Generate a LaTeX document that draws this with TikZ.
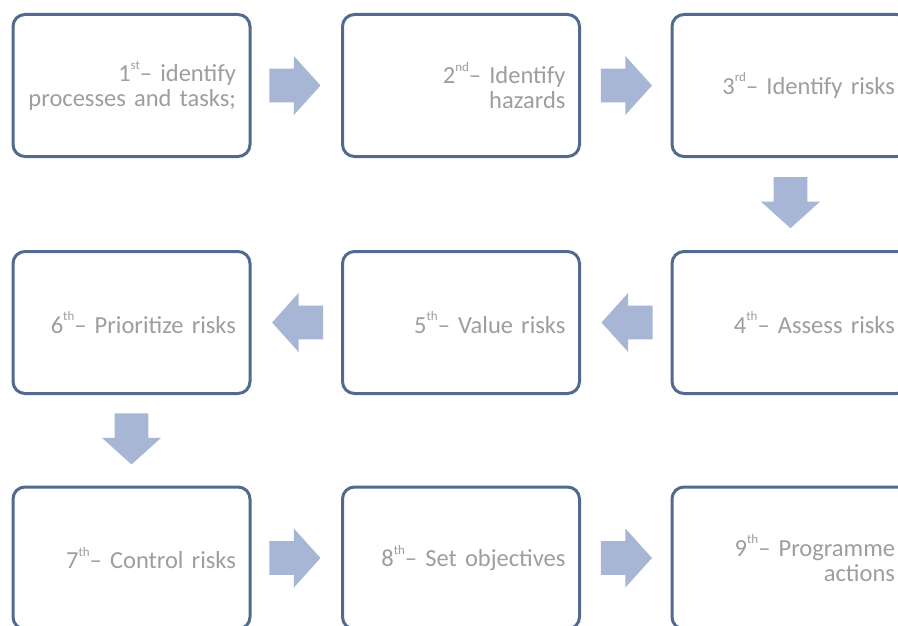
\documentclass[tikz,border=0pt]{standalone}
\usepackage{fontspec}
\setmainfont{Carlito}
\usetikzlibrary{shapes.arrows,calc}
\definecolor{boxblue}{RGB}{82,106,142}
\definecolor{arrowblue}{RGB}{167,182,212}
\definecolor{textgray}{RGB}{158,158,158}
\newcommand\ordsup[1]{\raisebox{0.5em}{\fontsize{13}{13}\selectfont #1}}
\tikzset{
  stepbox/.style={draw=boxblue, line width=3pt, rounded corners=12pt, fill=white,
    minimum width=237pt, minimum height=142pt, text width=209pt, inner xsep=14pt,
    align=right, text=textgray, font=\fontsize{24.5}{25}\selectfont},
  blockarrow/.style={single arrow, fill=arrowblue, draw=none, inner xsep=2pt, inner ysep=16.5pt,
    minimum height=51pt, minimum width=59pt, single arrow head extend=12.5pt,
    single arrow tip angle=96, anchor=tail},
  downarrow/.style={blockarrow, shape border rotate=270, inner xsep=16.5pt, inner ysep=2pt},
}
\begin{document}
\begin{tikzpicture}[x=1pt,y=-1pt]
\clip (0,0) rectangle (898,626);
\fill[white] (0,0) rectangle (898,626);
\node[stepbox] (b1) at (131.5,85.5) {1\ordsup{st}– identify\\processes and tasks;};
\node[stepbox] (b2) at (461,85.5) {2\ordsup{nd}– Identify\\hazards};
\node[stepbox] (b3) at (790.5,85.5) {3\ordsup{rd}– Identify risks};
\node[stepbox] (b6) at (131.5,322.5) {6\ordsup{th}– Prioritize risks};
\node[stepbox] (b5) at (461,322.5) {5\ordsup{th}– Value risks};
\node[stepbox] (b4) at (790.5,322.5) {4\ordsup{th}– Assess risks};
\node[stepbox] (b7) at (131.5,558) {7\ordsup{th}– Control risks};
\node[stepbox] (b8) at (461,558) {8\ordsup{th}– Set objectives};
\node[stepbox] (b9) at (790.5,558) {9\ordsup{th}– Programme\\actions};
\node[blockarrow] (a12) at ($(b1.east)!0.5!(b2.west)+(-27,0)$) {};
\node[blockarrow] (a23) at ($(b2.east)!0.5!(b3.west)+(-25,0)$) {};
\node[downarrow] (a34) at ($(b3.south)!0.5!(b4.north)+(0,-27)$) {};
\node[blockarrow, shape border rotate=180] (a45) at ($(b4.west)!0.5!(b5.east)+(27,0)$) {};
\node[blockarrow, shape border rotate=180] (a56) at ($(b5.west)!0.5!(b6.east)+(27,0)$) {};
\node[downarrow] (a67) at ($(b6.south)!0.5!(b7.north)+(0,-27)$) {};
\node[blockarrow] (a78) at ($(b7.east)!0.5!(b8.west)+(-27,0)$) {};
\node[blockarrow] (a89) at ($(b8.east)!0.5!(b9.west)+(-25,0)$) {};
\end{tikzpicture}
\end{document}
